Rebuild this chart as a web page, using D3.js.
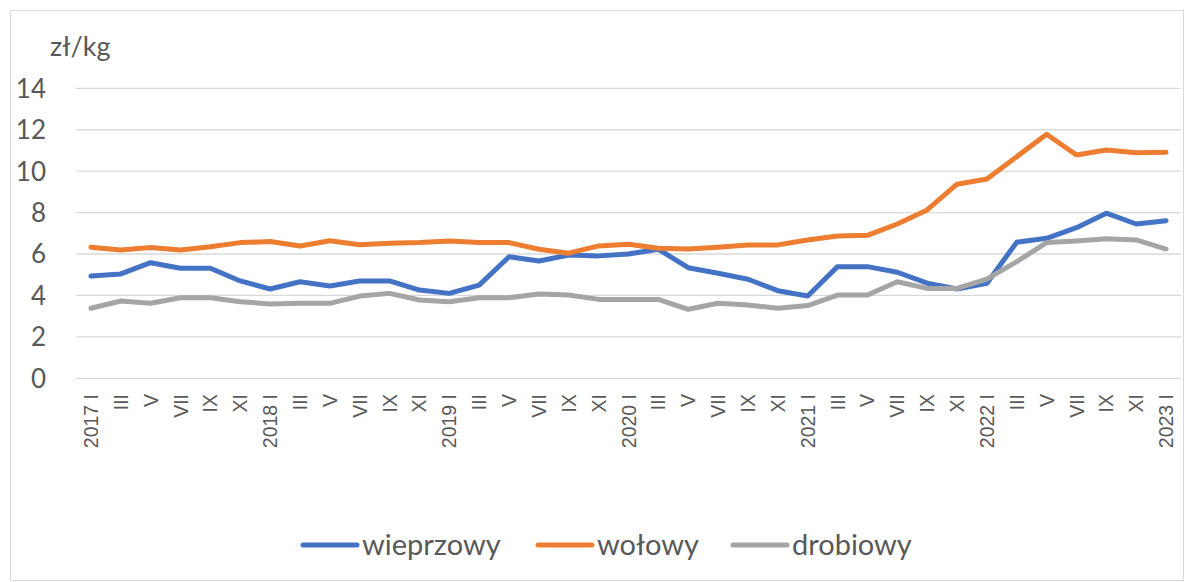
<!DOCTYPE html>
<html><head><meta charset="utf-8">
<script src="https://cdn.jsdelivr.net/npm/d3@7"></script>
<style>html,body{margin:0;padding:0;background:#fff;}svg{display:block;}</style>
</head><body>
<svg id="c" width="1185" height="582"></svg>
<script>
const categories = ["2017 I","III","V","VII","IX","XI","2018 I","III","V","VII","IX","XI","2019 I","III","V","VII","IX","XI","2020 I","III","V","VII","IX","XI","2021 I","III","V","VII","IX","XI","2022 I","III","V","VII","IX","XI","2023 I"];
const wieprzowy = [4.94,5.04,5.58,5.31,5.31,4.70,4.31,4.66,4.46,4.70,4.70,4.26,4.10,4.50,5.87,5.66,5.95,5.91,6.00,6.23,5.34,5.07,4.78,4.23,3.97,5.39,5.39,5.12,4.59,4.31,4.59,6.57,6.76,7.27,7.97,7.45,7.61];
const wolowy = [6.33,6.19,6.31,6.19,6.35,6.55,6.60,6.39,6.64,6.45,6.52,6.55,6.63,6.55,6.55,6.23,6.04,6.39,6.47,6.28,6.24,6.33,6.44,6.44,6.68,6.87,6.90,7.45,8.13,9.37,9.62,10.70,11.78,10.78,11.02,10.89,10.91];
const drobiowy = [3.38,3.73,3.62,3.89,3.89,3.70,3.59,3.62,3.62,3.97,4.10,3.78,3.70,3.89,3.89,4.07,4.02,3.81,3.81,3.81,3.33,3.62,3.54,3.38,3.51,4.02,4.02,4.66,4.34,4.34,4.79,5.63,6.55,6.63,6.74,6.68,6.24];
const seriesNames = ["wieprzowy","wołowy","drobiowy"];
const seriesColors = ["#4472C4","#ED7D31","#A5A5A5"];
const yTicks = [0,2,4,6,8,10,12,14];
const yUnit = "zł/kg";

const svg = d3.select("#c");
const L = 76, R = 1181, T = 88.3, B = 378.3;
const x = d3.scalePoint().domain(d3.range(categories.length)).range([L, R]).padding(0.5);
const y = d3.scaleLinear().domain([0, 14]).range([B, T]);

// outer border
svg.append("rect").attr("x",10.5).attr("y",10.5).attr("width",1173).attr("height",570)
  .attr("fill","none").attr("stroke","#D9D9D9").attr("stroke-width",1);

// gridlines
svg.append("g").selectAll("line").data(yTicks).join("line")
  .attr("x1",L).attr("x2",R).attr("y1",d=>y(d)).attr("y2",d=>y(d))
  .attr("stroke","#D9D9D9").attr("stroke-width",1.3);

// y tick labels
svg.append("g").selectAll("text").data(yTicks).join("text")
  .attr("x",46).attr("y",d=>y(d)).attr("dy","0.36em").attr("text-anchor","end")
  .attr("font-family","Lato, 'Open Sans', sans-serif").attr("font-size",26).attr("fill","#595959")
  .text(d=>d);

svg.append("text").attr("x",50).attr("y",56).attr("font-family","Lato, 'Open Sans', sans-serif")
  .attr("font-size",27).attr("fill","#595959").text(yUnit);

// x labels
const xl = svg.append("g");
categories.forEach((c,i)=>{
  xl.append("text")
    .attr("transform",`translate(${x(i)},394) rotate(-90)`)
    .attr("dy","0.36em").attr("text-anchor","end")
    .attr("font-family","'Liberation Sans', Arial, sans-serif").attr("font-size",19.5).attr("fill","#595959")
    .text(c);
});

// lines
const data = [wieprzowy, wolowy, drobiowy];
const line = d3.line().x((d,i)=>x(i)).y(d=>y(d));
data.forEach((s,k)=>{
  svg.append("path").datum(s).attr("d",line).attr("fill","none")
    .attr("stroke",seriesColors[k]).attr("stroke-width",5)
    .attr("stroke-linejoin","round").attr("stroke-linecap","round");
});

// legend
const legX = [303, 538, 733];
const lg = svg.append("g");
seriesNames.forEach((n,k)=>{
  lg.append("line").attr("x1",legX[k]).attr("x2",legX[k]+54).attr("y1",545).attr("y2",545)
    .attr("stroke",seriesColors[k]).attr("stroke-width",5).attr("stroke-linecap","round");
  lg.append("text").attr("x",legX[k]+59).attr("y",545).attr("dy","0.33em")
    .attr("font-family","Lato, 'Open Sans', sans-serif").attr("font-size",29).attr("fill","#595959")
    .text(n);
});
</script>
</body></html>
